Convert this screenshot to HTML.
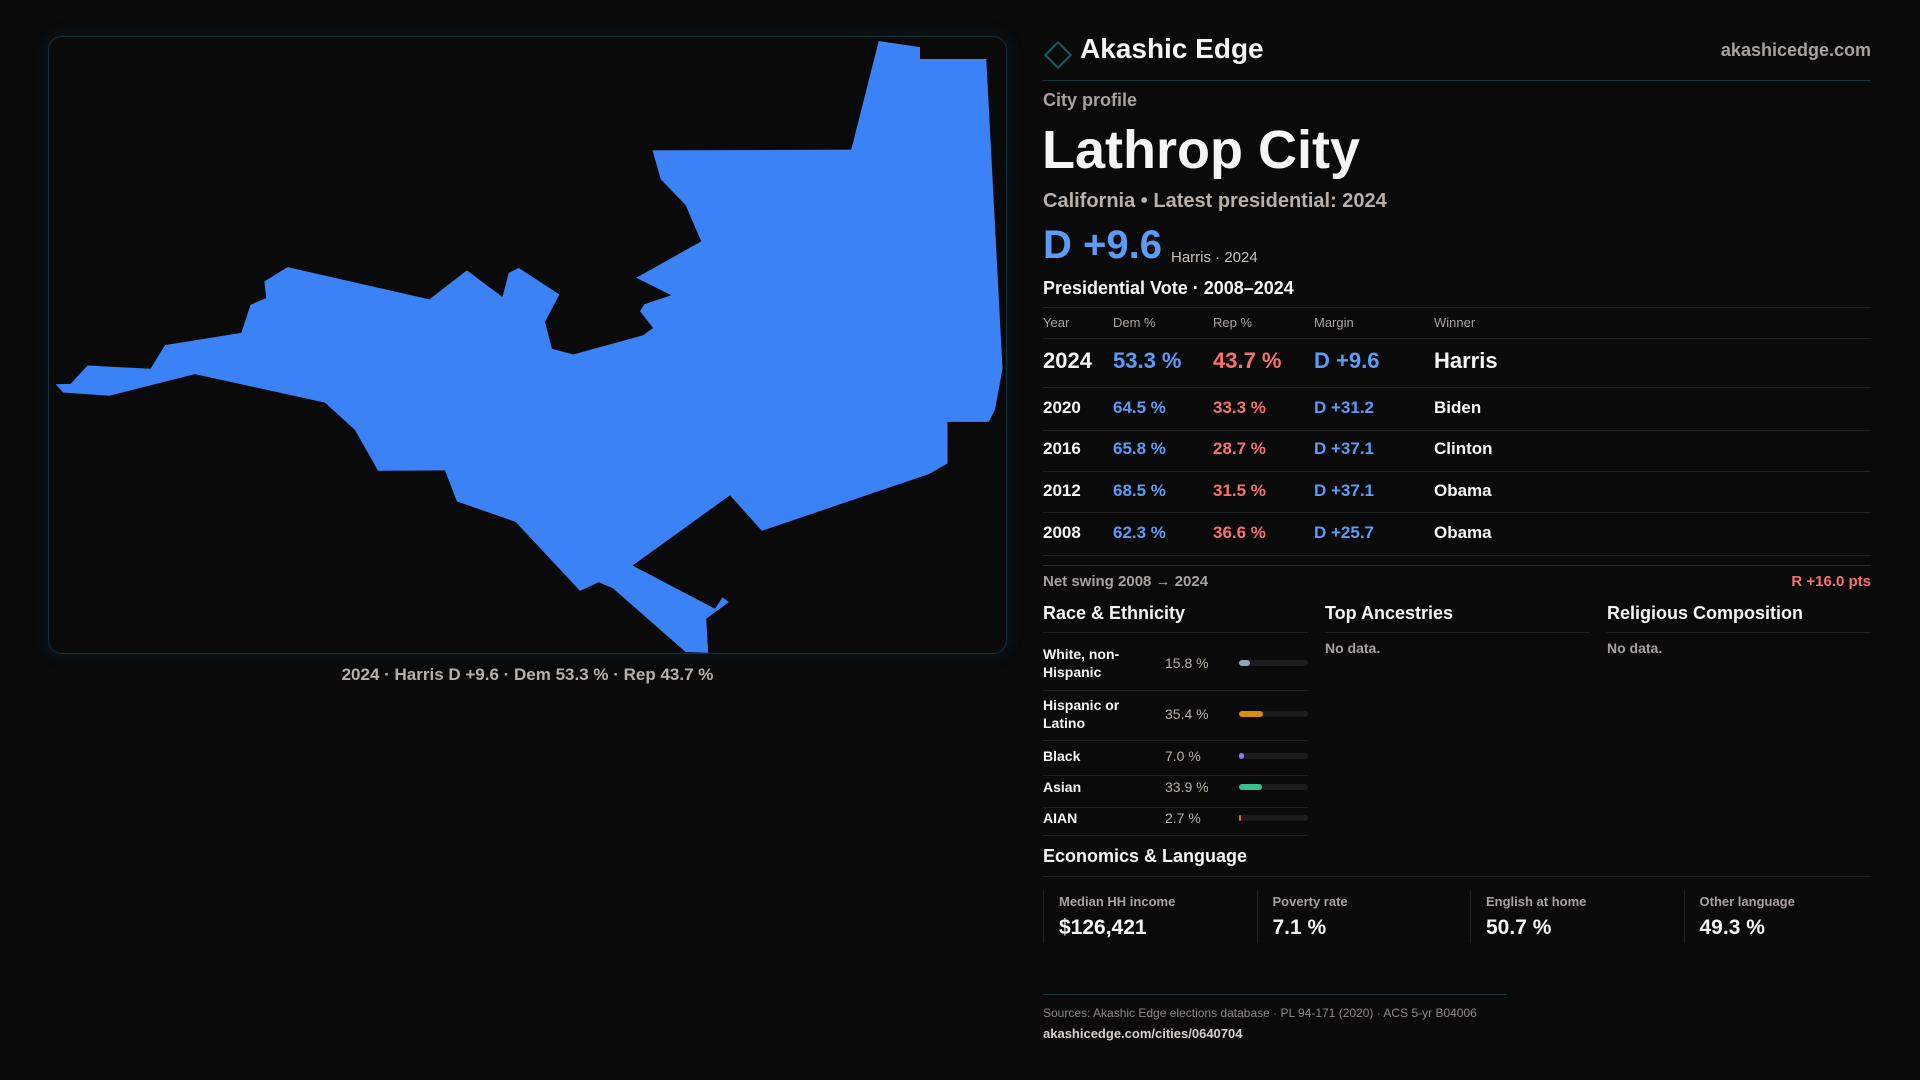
<!DOCTYPE html>
<html><head><meta charset="utf-8"><style>
*{margin:0;padding:0;box-sizing:border-box}
body{width:1920px;height:1080px;background:#0a0a0b;font-family:"Liberation Sans",sans-serif;color:#f5f5f4;position:relative;overflow:hidden}
.a{position:absolute;white-space:nowrap}
.g{color:#a8a29e}
.b{color:#5b9cf6}.r{color:#f87171}
.hl{position:absolute;height:1px;background:#222}
</style></head><body>
<div class="a" style="left:48px;top:36px;width:959px;height:618px;border:1px solid #143038;border-radius:14px;box-shadow:0 0 16px rgba(20,80,90,0.25)"></div>
<svg class="a" style="left:40px;top:30px" width="980" height="640" viewBox="0 0 1568 1568" preserveAspectRatio="none">
<polygon fill="#3b82f6" points="1342,27 1408,42 1408,71 1514,71 1540,830 1528,930 1518,960 1452,960 1452,1062 1422,1088 1155,1227 1104,1140 948,1312 1080,1418 1092,1390 1102,1402 1066,1442 1069,1526 1033,1524 917,1368 894,1353 864,1374 761,1205 667,1155 648,1079 541,1080 504,980 456,913 248,843 111,896 37,888 25,868 49,867 76,822 177,830 200,772 322,742 337,673 362,657 359,616 396,581 623,660 683,589 740,654 750,595 766,583 831,648 808,715 819,781 853,795 965,748 981,730 960,689 967,672 1010,650 954,607 1058,518 1033,429 993,365 980,295 1298,293"/>
</svg>
<div class="a g" style="left:48px;width:959px;top:665px;text-align:center;font-size:17px;font-weight:bold;color:#b8b0a8">2024 · Harris D +9.6 · Dem 53.3 % · Rep 43.7 %</div>

<div class="a" style="left:1048px;top:45px;width:20px;height:20px;border:2px solid #155e63;transform:rotate(45deg)"></div>
<div class="a" style="left:1080px;top:33px;font-size:28px;font-weight:bold">Akashic Edge</div>
<div class="a g" style="right:49px;top:40px;font-size:18px;font-weight:bold">akashicedge.com</div>
<div class="hl" style="left:1043px;width:828px;top:80px;background:#12363c"></div>
<div class="a g" style="left:1043px;top:90px;font-size:18px;font-weight:bold">City profile</div>
<div class="a" style="left:1042px;top:119px;font-size:54px;font-weight:bold">Lathrop City</div>
<div class="a" style="left:1043px;top:190px;font-size:20px;font-weight:bold;color:#b8b0a8">California • Latest presidential: 2024</div>
<div class="a b" style="left:1043px;top:223px;font-size:40px;font-weight:bold">D +9.6</div>
<div class="a" style="left:1171px;top:249px;font-size:15px;color:#c8c0b8">Harris · 2024</div>
<div class="a" style="left:1043px;top:278px;font-size:18px;font-weight:bold">Presidential Vote · 2008–2024</div>
<div class="hl" style="left:1043px;width:828px;top:307px"></div>
<div class="a g" style="left:1043px;top:315px;font-size:13px">Year</div>
<div class="a g" style="left:1113px;top:315px;font-size:13px">Dem %</div>
<div class="a g" style="left:1213px;top:315px;font-size:13px">Rep %</div>
<div class="a g" style="left:1314px;top:315px;font-size:13px">Margin</div>
<div class="a g" style="left:1434px;top:315px;font-size:13px">Winner</div>
<div class="hl" style="left:1043px;width:828px;top:338px"></div>
<div id="vote"></div>
<div class="hl" style="left:1043px;width:828px;top:565px;background:#2a2a2a"></div>
<div class="a g" style="left:1043px;top:573px;font-size:15px;font-weight:bold">Net swing 2008 → 2024</div>
<div class="a r" style="right:49px;top:573px;font-size:15px;font-weight:bold">R +16.0 pts</div>

<div class="a" style="left:1043px;top:603px;font-size:18px;font-weight:bold">Race &amp; Ethnicity</div>
<div class="hl" style="left:1043px;width:265px;top:632px"></div>
<div class="a" style="left:1325px;top:603px;font-size:18px;font-weight:bold">Top Ancestries</div>
<div class="hl" style="left:1325px;width:265px;top:632px"></div>
<div class="a g" style="left:1325px;top:640px;font-size:14px;font-weight:bold">No data.</div>
<div class="a" style="left:1607px;top:603px;font-size:18px;font-weight:bold">Religious Composition</div>
<div class="hl" style="left:1607px;width:264px;top:632px"></div>
<div class="a g" style="left:1607px;top:640px;font-size:14px;font-weight:bold">No data.</div>
<div id="race"></div>

<div class="a" style="left:1043px;top:846px;font-size:18px;font-weight:bold">Economics &amp; Language</div>
<div class="hl" style="left:1043px;width:828px;top:876px"></div>
<div id="econ"></div>

<div class="hl" style="left:1043px;width:464px;top:994px;background:#12363c"></div>
<div class="a g" style="left:1043px;top:1006px;font-size:12px;color:#8f8883">Sources: Akashic Edge elections database · PL 94-171 (2020) · ACS 5-yr B04006</div>
<div class="a" style="left:1043px;top:1026px;font-size:13px;font-weight:bold;color:#d6d0ca">akashicedge.com/cities/0640704</div>

<script>
const years=["2024","2020","2016","2012","2008"];
const demPct=[53.3,64.5,65.8,68.5,62.3];
const repPct=[43.7,33.3,28.7,31.5,36.6];
const marginLabels=["D +9.6","D +31.2","D +37.1","D +37.1","D +25.7"];
const winners=["Harris","Biden","Clinton","Obama","Obama"];
const raceLabels=["White, non-<br>Hispanic","Hispanic or<br>Latino","Black","Asian","AIAN"];
const raceValues=[15.8,35.4,7.0,33.9,2.7];
const raceColors=["#94a3b8","#d98e0b","#8b7cf6","#34c38f","#d97706"];
const econLabels=["Median HH income","Poverty rate","English at home","Other language"];
const econValues=["$126,421","7.1 %","50.7 %","49.3 %"];

function mk(parent,css,html,name,inter){
  const d=document.createElement('div');
  d.className='a';d.style.cssText=css;d.innerHTML=html;
  
  
  parent.appendChild(d);return d;
}
const V=document.getElementById('vote');
const rowCenters=[361,408,449,491,533];
const rowRules=[387,430,471,512,555];
years.forEach((y,i)=>{
  const fs=i===0?22:17, c=rowCenters[i]-fs*0.6;
  mk(V,`left:1043px;top:${c}px;font-size:${fs}px;font-weight:bold`,y,'vote-year','false');
  mk(V,`left:1113px;top:${c}px;font-size:${fs}px;font-weight:bold;color:#5b9cf6`,demPct[i].toFixed(1)+' %','vote-dem','false');
  mk(V,`left:1213px;top:${c}px;font-size:${fs}px;font-weight:bold;color:#f87171`,repPct[i].toFixed(1)+' %','vote-rep','false');
  mk(V,`left:1314px;top:${c}px;font-size:${fs}px;font-weight:bold;color:#5b9cf6`,marginLabels[i],'vote-margin','false');
  mk(V,`left:1434px;top:${c}px;font-size:${fs}px;font-weight:bold`,winners[i],'vote-winner','false');
  mk(V,`left:1043px;width:828px;top:${rowRules[i]}px;height:1px;background:#222`,'','row-rule','false');
});
const R=document.getElementById('race');
const raceCenters=[663,714,756,787,818];
const raceRules=[690,740,775,807,835];
const barX=1239, barW=69;
function xs(v){return v/100*barW;}
raceValues.forEach((v,i)=>{
  const two=raceLabels[i].includes('<br>');
  mk(R,`left:1043px;top:${raceCenters[i]-(two?18:9)}px;font-size:14px;font-weight:bold;line-height:18px;white-space:normal`,raceLabels[i],'race-label','false');
  mk(R,`left:1165px;top:${raceCenters[i]-8}px;font-size:14px;color:#b8b0a8`,v.toFixed(1)+' %','race-value','false');
  mk(R,`left:${barX}px;top:${raceCenters[i]-3}px;width:${barW}px;height:6px;border-radius:3px;background:#1c1c1e`,'','race-bar-track','false');
  mk(R,`left:${barX}px;top:${raceCenters[i]-3}px;width:${Math.max(2,xs(v))}px;height:6px;border-radius:3px;background:${raceColors[i]}`,'','race-bar','false');
  mk(R,`left:1043px;width:265px;top:${raceRules[i]}px;height:1px;background:#222`,'','row-rule','false');
});
const E=document.getElementById('econ');
econLabels.forEach((l,i)=>{
  const x=1043+i*213.5;
  mk(E,`left:${x}px;top:891px;width:1px;height:52px;background:#222`,'','card-border','false');
  mk(E,`left:${x+16}px;top:894px;font-size:13px;font-weight:bold;color:#a8a29e`,l,'metric-label','false');
  mk(E,`left:${x+16}px;top:916px;font-size:21px;font-weight:bold`,econValues[i],'metric-value','false');
});
</script>
</body></html>
